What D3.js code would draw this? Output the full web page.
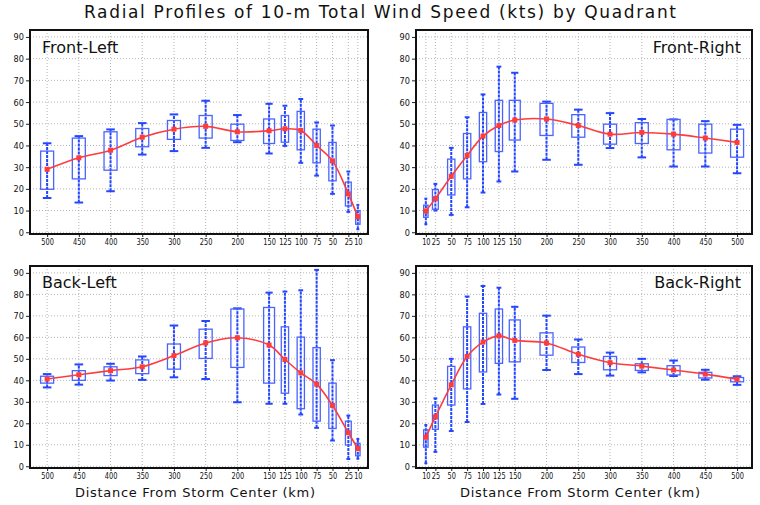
<!DOCTYPE html>
<html>
<head>
<meta charset="utf-8">
<script src="https://cdn.jsdelivr.net/npm/d3@7"></script>
<style>
  body { margin: 0; background: #fff; }
  text { font-family: "DejaVu Sans", sans-serif; fill: #111; }
</style>
</head>
<body>
<div id="chart"></div>
<script>
// distances (km) from storm center
var distances = [10, 25, 50, 75, 100, 125, 150, 200, 250, 300, 350, 400, 450, 500]
var yTicks = [0, 10, 20, 30, 40, 50, 60, 70, 80, 90]

// Front-Left
var flMin  = [1.4, 9.4, 17.7, 26.1, 32, 39.8, 36.3, 41.5, 38.9, 37.4, 35.8, 18.9, 13.7, 15.8]
var flQ1   = [3.7, 12.1, 23.7, 32, 38, 41.5, 40.9, 42.3, 43.4, 42.8, 39.4, 28.6, 24.6, 19.8]
var flMean = [7.2, 17.7, 32.9, 40, 46.9, 47.7, 46.8, 46.3, 48.8, 47.5, 43.8, 37.8, 34.3, 29]
var flQ3   = [10, 23.1, 41.4, 47.5, 55.7, 53.8, 52.2, 49.8, 53.8, 51.5, 47.8, 46.3, 43.4, 37.4]
var flMax  = [12.6, 28, 49.2, 50.6, 61.4, 58.3, 59.2, 54, 60.6, 54.3, 50.3, 47.4, 44.3, 41]

// Front-Right
var frMin  = [3.7, 10, 8, 11.5, 18.3, 23.4, 28, 33.4, 31.1, 38.8, 34.5, 30.3, 30.3, 27.2]
var frQ1   = [6.9, 10.6, 17.2, 24.6, 32.5, 37.2, 42.5, 44.6, 43.8, 40.6, 40.9, 38, 36.5, 34.6]
var frMean = [9.8, 15.5, 25.8, 35.4, 44.3, 49.2, 51.7, 52.2, 49.2, 45.2, 46, 45.2, 43.4, 41.4]
var frQ3   = [12.5, 19.7, 33.7, 45.5, 55.2, 60.8, 60.8, 59.4, 54.2, 49.8, 50.5, 52, 49.8, 47.5]
var frMax  = [15.5, 22.3, 38.9, 53, 63.5, 76.3, 73.5, 60.2, 56.5, 54.9, 52.2, 52, 51.2, 49.5]

// Back-Left
var blMin  = [3.5, 3.4, 12, 17.9, 24.1, 29.1, 29.1, 29.8, 40.6, 41.4, 40.2, 39.9, 38, 36.7]
var blQ1   = [4.9, 9.9, 17.6, 21, 26.8, 34, 38.7, 46, 50.2, 45.2, 43.1, 42.2, 40, 38.7]
var blMean = [8.3, 15.6, 28.3, 38.2, 43.5, 49.7, 56.4, 59.8, 57.4, 51.5, 46.3, 44.5, 42.6, 40.6]
var blQ3   = [10.7, 21, 38.7, 55.2, 60.1, 64.9, 73.9, 73.2, 63.8, 56.9, 49.5, 46.3, 44.5, 41.9]
var blMax  = [12.7, 23.6, 49.4, 91.4, 81.9, 81.3, 80.8, 73.5, 67.6, 65.5, 51.1, 47.7, 47.4, 42.9]

// Back-Right
var brMin  = [1.4, 6.7, 16.4, 20.6, 29, 33.4, 31.4, 44.8, 42.9, 42.2, 43.7, 42, 40.3, 37.9]
var brQ1   = [8.9, 17.2, 28.5, 36, 43.9, 47.9, 48.6, 51.7, 48.3, 44.9, 44.6, 42.5, 41.1, 39.3]
var brMean = [13.5, 23, 37.9, 51.1, 57.8, 60.7, 58.6, 57.4, 52.1, 48.2, 46.6, 44.8, 42.9, 40.5]
var brQ3   = [17, 28.5, 46.5, 64.9, 71.2, 73.2, 68.1, 62.1, 55.5, 51.1, 47.7, 46.8, 43.7, 41.3]
var brMax  = [19.2, 31.6, 50, 79, 83.9, 83.1, 74.2, 70.1, 59, 52.9, 50, 49.2, 44.9, 41.9]

var width = 760, height = 505
var svg = d3.select("#chart").append("svg").attr("width", width).attr("height", height)

var blue = "#2546ff", red = "#ff3c3c"

svg.append("text").attr("x", 380).attr("y", 18).attr("text-anchor", "middle")
    .attr("font-size", 17).attr("textLength", 592).attr("lengthAdjust", "spacing")
    .text("Radial Profiles of 10-m Total Wind Speed (kts) by Quadrant")

var panels = [
    {name: "Front-Left", x0: 30, x1: 368, y0: 30, y1: 234, flip: true,
     mn: flMin, q1: flQ1, mean: flMean, q3: flQ3, mx: flMax, xlab: false},
    {name: "Front-Right", x0: 416, x1: 752, y0: 30, y1: 234, flip: false,
     mn: frMin, q1: frQ1, mean: frMean, q3: frQ3, mx: frMax, xlab: false},
    {name: "Back-Left", x0: 30, x1: 368, y0: 266, y1: 468, flip: true,
     mn: blMin, q1: blQ1, mean: blMean, q3: blQ3, mx: blMax, xlab: true},
    {name: "Back-Right", x0: 416, x1: 752, y0: 266, y1: 468, flip: false,
     mn: brMin, q1: brQ1, mean: brMean, q3: brQ3, mx: brMax, xlab: true}
]

panels.forEach(function(p) {
    var g = svg.append("g")
    var x = d3.scaleLinear()
        .domain(p.flip ? [527, -6] : [-5.5, 523.5])
        .range([p.x0, p.x1])
    var y = d3.scaleLinear().domain([-0.8, 93.2]).range([p.y1, p.y0])

    // grid
    g.selectAll(".hg").data(yTicks).join("line")
        .attr("x1", p.x0).attr("x2", p.x1)
        .attr("y1", d => y(d)).attr("y2", d => y(d))
        .attr("stroke", "#b4b4b4").attr("stroke-dasharray", "1,2")
    g.selectAll(".vg").data(distances).join("line")
        .attr("x1", d => x(d)).attr("x2", d => x(d))
        .attr("y1", p.y0).attr("y2", p.y1)
        .attr("stroke", "#b4b4b4").attr("stroke-dasharray", "1,2")

    // axes
    var ya = g.append("g").attr("transform", "translate(" + p.x0 + ",0)")
        .call(d3.axisLeft(y).tickValues(yTicks).tickSize(4).tickPadding(2))
    var xa = g.append("g").attr("transform", "translate(0," + p.y1 + ")")
        .call(d3.axisBottom(x).tickValues(distances).tickSize(3).tickPadding(2))
    ;[ya, xa].forEach(a => {
        a.select(".domain").remove()
        a.selectAll("text").attr("font-size", 9.5).attr("font-family", "DejaVu Sans, sans-serif").attr("fill", "#222")
        a.selectAll("line").attr("stroke", "#222")
    })
    // narrow digits like the original stroke font
    xa.selectAll("text").attr("font-size", 9).attr("textLength", d => String(d).length * 4.2)
        .attr("lengthAdjust", "spacingAndGlyphs")
    ya.selectAll("text").attr("textLength", d => String(d).length * 5.2)
        .attr("lengthAdjust", "spacingAndGlyphs")

    // box widths from spacing to neighbours
    var px = distances.map(d => x(d))
    var bw = px.map(function(v, i) {
        var gaps = []
        if (i > 0) gaps.push(Math.abs(v - px[i - 1]))
        if (i < px.length - 1) gaps.push(Math.abs(px[i + 1] - v))
        return Math.min(13, 0.46 * d3.mean(gaps))
    })

    var idx = d3.range(distances.length)
    // whiskers
    g.selectAll(".wh").data(idx).join("line")
        .attr("x1", i => px[i]).attr("x2", i => px[i])
        .attr("y1", i => y(p.mn[i])).attr("y2", i => y(p.mx[i]))
        .attr("stroke", blue).attr("stroke-width", 2).attr("stroke-dasharray", "3,1")
    ;["mn", "mx"].forEach(k => {
        g.selectAll(".cap" + k).data(idx).join("line")
            .attr("x1", i => px[i] - bw[i] * 0.33).attr("x2", i => px[i] + bw[i] * 0.33)
            .attr("y1", i => y(p[k][i])).attr("y2", i => y(p[k][i]))
            .attr("stroke", blue).attr("stroke-width", 2)
    })
    // boxes
    g.selectAll(".box").data(idx).join("rect")
        .attr("x", i => px[i] - bw[i] / 2).attr("width", i => bw[i])
        .attr("y", i => y(p.q3[i])).attr("height", i => y(p.q1[i]) - y(p.q3[i]))
        .attr("fill", "none").attr("stroke", "#4a64ff").attr("stroke-width", 1.3)

    // mean line
    var line = d3.line().x(i => px[i]).y(i => y(p.mean[i])).curve(d3.curveCatmullRom.alpha(0.5))
    g.append("path").datum(idx).attr("d", line)
        .attr("fill", "none").attr("stroke", red).attr("stroke-width", 1.6)
    g.selectAll(".mk").data(idx).join("rect")
        .attr("x", i => px[i] - 2.5).attr("y", i => y(p.mean[i]) - 2.5)
        .attr("width", 5).attr("height", 5).attr("fill", red)

    // frame
    g.append("rect").attr("x", p.x0).attr("y", p.y0)
        .attr("width", p.x1 - p.x0).attr("height", p.y1 - p.y0)
        .attr("fill", "none").attr("stroke", "#111").attr("stroke-width", 2)

    // panel label
    var lab = g.append("text").attr("font-size", 16).attr("y", p.y0 + (p.y0 < 100 ? 23 : 22))
        .text(p.name)
    if (p.flip) lab.attr("x", p.x0 + 12)
    else lab.attr("x", p.x1 - 11).attr("text-anchor", "end")

    if (p.xlab) {
        g.append("text").attr("x", (p.x0 + p.x1) / 2 - 4).attr("y", 497)
            .attr("text-anchor", "middle").attr("font-size", 13)
            .attr("textLength", 240).attr("lengthAdjust", "spacing").attr("fill", "#333")
            .text("Distance From Storm Center (km)")
    }
})
</script>
</body>
</html>
